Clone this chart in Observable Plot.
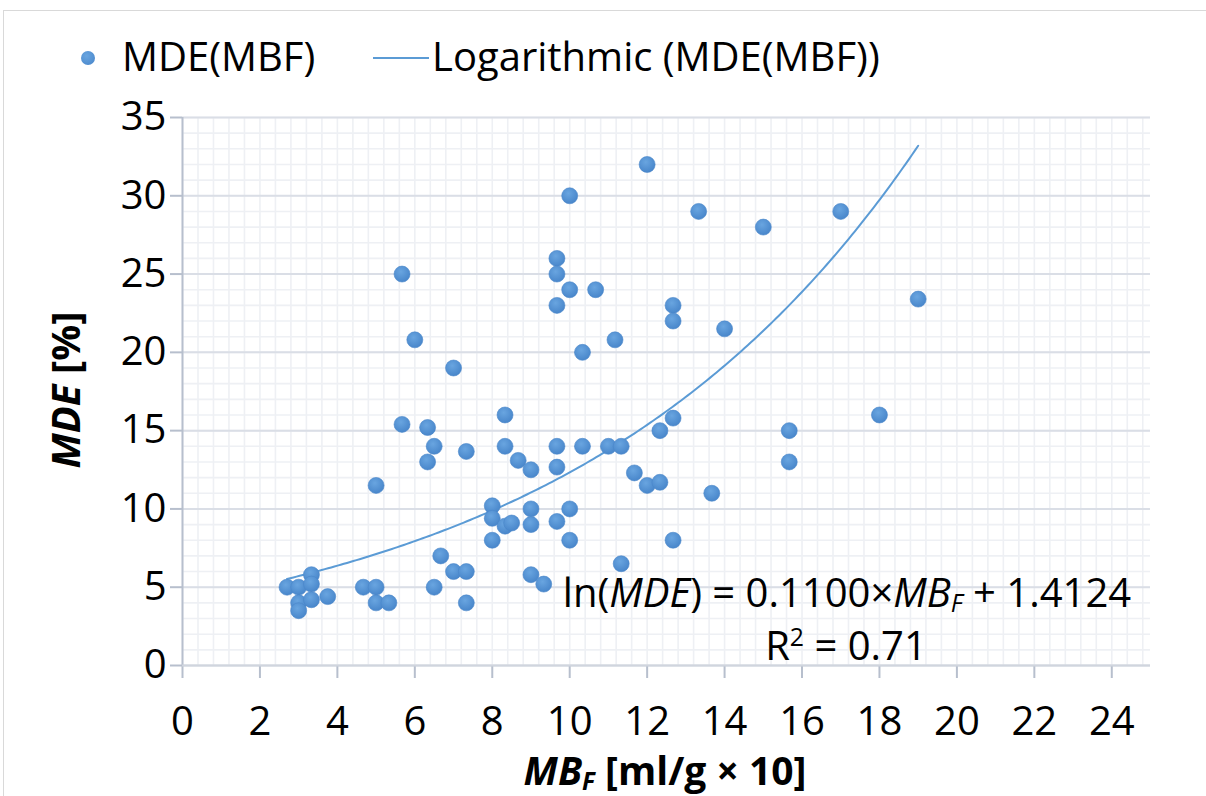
<!DOCTYPE html>
<html>
<head>
<meta charset="utf-8">
<script src="https://cdn.jsdelivr.net/npm/d3@7"></script>
<script src="https://cdn.jsdelivr.net/npm/@observablehq/plot@0.6"></script>
<style>
  body { margin: 0; background: #fff; }
  #wrap { position: relative; width: 1206px; height: 796px; overflow: hidden; font-family: "Open Sans", sans-serif; color: #000; }
  #wrap svg { position: absolute; left: 0; top: 0; }
  .frame { position: absolute; left: 3px; top: 10px; width: 1400px; height: 1000px; border: 1px solid #d9d9d9; box-sizing: border-box; }
  .txt { position: absolute; white-space: nowrap; font-size: 40px; line-height: 1; }
  .b { font-weight: bold; }
  sub { font-size: 0.62em; vertical-align: -0.22em; line-height: 0; }
  sup { font-size: 0.62em; vertical-align: 0.55em; line-height: 0; }
</style>
</head>
<body>
<div id="wrap">
  <div class="frame"></div>
</div>
<script>
// ---- data ----
const mbf = [2.7, 3.0, 3.0, 3.0, 3.33, 3.33, 3.33, 3.75, 4.67, 5.0, 5.0, 5.33, 5.0, 5.67, 5.67, 6.0, 6.33, 6.33, 6.5, 6.5,
  6.67, 7.0, 7.0, 7.33, 7.33, 7.33, 8.0, 8.0, 8.0, 8.33, 8.33, 8.33, 8.5, 8.67, 9.0, 9.0, 9.0, 9.0, 9.33,
  9.67, 9.67, 9.67, 9.67, 9.67, 9.67, 10.0, 10.0, 10.0, 10.0, 10.33, 10.33, 10.67, 11.0, 11.17, 11.33, 11.33, 11.67,
  12.0, 12.0, 12.33, 12.33, 12.67, 12.67, 12.67, 12.67, 13.33, 13.67, 14.0, 15.0, 15.67, 15.67, 17.0, 18.0, 19.0];
const mde = [5.0, 5.0, 4.0, 3.5, 5.8, 5.2, 4.2, 4.4, 5.0, 5.0, 4.0, 4.0, 11.5, 25.0, 15.4, 20.8, 15.2, 13.0, 14.0, 5.0,
  7.0, 19.0, 6.0, 13.67, 6.0, 4.0, 10.2, 9.4, 8.0, 16.0, 14.0, 8.9, 9.1, 13.1, 12.5, 10.0, 9.0, 5.8, 5.2,
  26.0, 25.0, 23.0, 14.0, 12.67, 9.2, 30.0, 24.0, 10.0, 8.0, 20.0, 14.0, 24.0, 14.0, 20.8, 14.0, 6.5, 12.3,
  32.0, 11.5, 15.0, 11.7, 23.0, 22.0, 15.8, 8.0, 29.0, 11.0, 21.5, 28.0, 15.0, 13.0, 29.0, 16.0, 23.4];
// fitted trend shown on the chart: ln(MDE) = slope * MB_F + intercept
const slope = 0.1100;
const intercept = 1.4124;
const rSquared = "0.71";
const xTicks = [0, 2, 4, 6, 8, 10, 12, 14, 16, 18, 20, 22, 24];
const yTicks = [0, 5, 10, 15, 20, 25, 30, 35];
const seriesName = "MDE(MBF)";
const trendName = "Logarithmic (MDE(MBF))";

const points = mbf.map((x, i) => ({x, y: mde[i]}));
const xMin = d3.min(mbf), xMax = d3.max(mbf);
const trend = d3.range(0, 201).map(i => {
  const x = xMin + (xMax - xMin) * i / 200;
  return {x, y: Math.exp(slope * x + intercept)};
});
const minorX = d3.range(0, 63).map(i => +(i * 0.4).toFixed(1));
const minorY = d3.range(0, 36);

const axisColor = "#b7bfcd";
const chart = Plot.plot({
  width: 1206,
  height: 796,
  marginTop: 117,
  marginBottom: 131,
  marginLeft: 182,
  marginRight: 56,
  x: {domain: [0, 25]},
  y: {domain: [0, 35]},
  style: {fontFamily: "'Open Sans', sans-serif", fontSize: "40px", color: "#000", background: "transparent", overflow: "visible"},
  marks: [
    Plot.gridX(minorX, {stroke: "#eef0f4", strokeOpacity: 1, strokeWidth: 1.6}),
    Plot.gridY(minorY, {stroke: "#eef0f4", strokeOpacity: 1, strokeWidth: 1.6}),
    Plot.gridY(yTicks, {stroke: "#dadee6", strokeOpacity: 1, strokeWidth: 2}),
    Plot.line(trend, {x: "x", y: "y", stroke: "#5b9bd5", strokeWidth: 2}),
    Plot.dot(points, {x: "x", y: "y", r: 8, fill: "url(#dotg)", stroke: "#4a87c9", strokeWidth: 0.6}),
    Plot.axisY({ticks: yTicks, tickSize: 12, tickPadding: 4, stroke: axisColor, strokeWidth: 2, label: null, fill: "#000"}),
    Plot.axisX({ticks: xTicks, tickSize: 13, tickPadding: 28, stroke: axisColor, strokeWidth: 2, label: null, fill: "#000"}),
    Plot.ruleX([0], {stroke: axisColor, strokeWidth: 2}),
    Plot.ruleY([0], {stroke: "#d0d5de", strokeWidth: 2})
  ]
});
const ns = "http://www.w3.org/2000/svg";
const defs = document.createElementNS(ns, "defs");
defs.innerHTML = '<radialGradient id="dotg" cx="42%" cy="35%" r="70%"><stop offset="0" stop-color="#69a5e0"/><stop offset="1" stop-color="#4684c9"/></radialGradient>';
chart.insertBefore(defs, chart.firstChild);

const wrap = document.getElementById("wrap");
wrap.appendChild(chart);

function addText(html, style, cls) {
  const d = document.createElement("div");
  d.className = "txt " + (cls || "");
  d.innerHTML = html;
  Object.assign(d.style, style);
  wrap.appendChild(d);
  return d;
}
// legend
const legDot = document.createElement("div");
Object.assign(legDot.style, {position: "absolute", left: "81px", top: "51px", width: "14px", height: "14px", borderRadius: "50%", background: "radial-gradient(circle at 40% 35%, #69a5e0, #4684c9)"});
wrap.appendChild(legDot);
addText(seriesName, {left: "122px", top: "36px"});
const legLine = document.createElement("div");
Object.assign(legLine.style, {position: "absolute", left: "373px", top: "57px", width: "56px", height: "2px", background: "#5b9bd5"});
wrap.appendChild(legLine);
addText(trendName, {left: "432px", top: "36px"});
// axis titles
addText("<i>MDE</i> [%]", {left: "65px", top: "390px", transform: "translate(-50%,-50%) rotate(-90deg)"}, "b");
addText("<i>MB<sub>F</sub></i> [ml/g × 10]", {left: "665px", top: "750px", fontSize: "39px", transform: "translateX(-50%)"}, "b");
// equation
addText("ln(<i>MDE</i>) = " + slope.toFixed(4) + "×<i>MB<sub>F</sub></i> + " + intercept.toFixed(4), {left: "847px", top: "572px", transform: "translateX(-50%)"});
addText("R<sup>2</sup> = " + rSquared, {left: "846px", top: "625px", transform: "translateX(-50%)"});
</script>
</body>
</html>
